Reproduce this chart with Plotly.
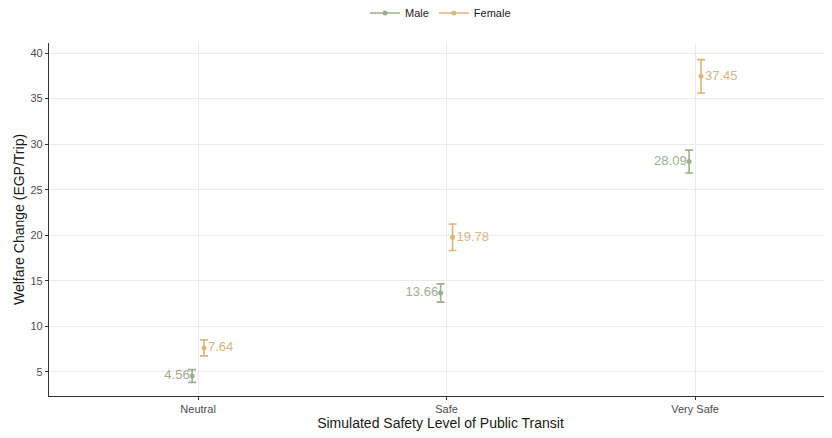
import plotly.graph_objects as go

categories = ["Neutral", "Safe", "Very Safe"]
male_vals = [4.56, 13.66, 28.09]
male_err = [0.70, 1.00, 1.25]
female_vals = [7.64, 19.78, 37.45]
female_err = [0.88, 1.45, 1.83]

male_color = "#9DAE8C"
female_color = "#D8B67F"
dodge = 0.024

xpos = [1, 2, 3]
male_x = [x - dodge for x in xpos]
female_x = [x + dodge for x in xpos]

fig = go.Figure()
fig.add_trace(go.Scatter(
    x=male_x, y=male_vals, mode="markers", name="Male",
    marker=dict(color=male_color, size=5),
    error_y=dict(type="data", array=male_err, color=male_color, thickness=1.6, width=4),
    showlegend=False,
))
fig.add_trace(go.Scatter(
    x=female_x, y=female_vals, mode="markers", name="Female",
    marker=dict(color=female_color, size=5),
    error_y=dict(type="data", array=female_err, color=female_color, thickness=1.6, width=4),
    showlegend=False,
))
# labels
fig.add_trace(go.Scatter(
    x=[x - 0.01 for x in male_x], y=male_vals, mode="text",
    text=[f"{v:.2f}" for v in male_vals], textposition="middle left",
    textfont=dict(color=male_color, size=13, family="Arial"), showlegend=False, hoverinfo="skip",
))
fig.add_trace(go.Scatter(
    x=[x + 0.016 for x in female_x], y=female_vals, mode="text",
    text=[f"{v:.2f}" for v in female_vals], textposition="middle right",
    textfont=dict(color=female_color, size=13, family="Arial"), showlegend=False, hoverinfo="skip",
))
# legend entries
fig.add_trace(go.Scatter(x=[None], y=[None], mode="lines+markers", name="Male",
                         line=dict(color=male_color, width=1.5), marker=dict(color=male_color, size=5)))
fig.add_trace(go.Scatter(x=[None], y=[None], mode="lines+markers", name="Female",
                         line=dict(color=female_color, width=1.5), marker=dict(color=female_color, size=5)))

fig.update_layout(
    width=824, height=430,
    margin=dict(l=41, r=0, t=35, b=42, autoexpand=False),
    paper_bgcolor="white", plot_bgcolor="white",
    font=dict(family="Arial", color="#4D4D4D"),
    legend=dict(orientation="h", x=0.5, xanchor="center", y=1.085, yanchor="middle",
                font=dict(size=11, color="#1A1A1A")),
    xaxis=dict(
        range=[0.4, 3.551], tickvals=xpos, ticktext=categories,
        showgrid=True, gridcolor="#EBEBEB", gridwidth=1,
        showline=True, linecolor="#333333", linewidth=1.2,
        ticks="outside", ticklen=3, tickcolor="#333333",
        tickfont=dict(size=11, color="#4D4D4D"), automargin=False,
        title=dict(text="Simulated Safety Level of Public Transit", font=dict(size=14, color="#1A1A1A"), standoff=2),
        zeroline=False,
    ),
    yaxis=dict(
        range=[2.36, 41.1], tickvals=[5, 10, 15, 20, 25, 30, 35, 40],
        showgrid=True, gridcolor="#EBEBEB", gridwidth=1,
        showline=True, linecolor="#333333", linewidth=1.2,
        ticks="outside", ticklen=3, tickcolor="#333333",
        tickfont=dict(size=11, color="#4D4D4D"), automargin=False,
        title=dict(text="Welfare Change (EGP/Trip)", font=dict(size=14, color="#1A1A1A"), standoff=2),
        zeroline=False,
    ),
)

fig.write_html("out.html")
